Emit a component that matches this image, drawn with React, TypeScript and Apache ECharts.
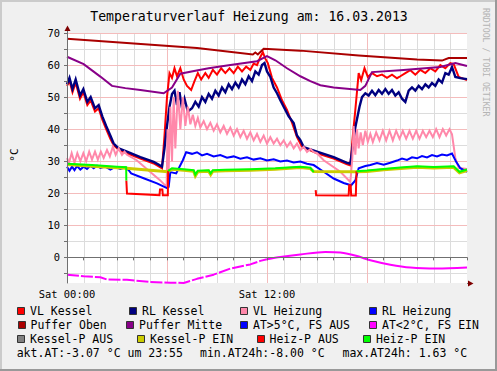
import React, { useEffect, useRef } from 'react';
import * as echarts from 'echarts';

const W = 497;
const H = 371;
const MONO = '"DejaVu Sans Mono", "Liberation Mono", monospace';

// ---- axis ticks ----
const yMajorTicks = [0, 10, 20, 30, 40, 50, 60, 70];
const yMinorTicks = [-5, 5, 15, 25, 35, 45, 55, 65];
const xMajorTicks = [6, 12, 18];
const xMinorTicks = [1, 2, 3, 4, 5, 7, 8, 9, 10, 11, 13, 14, 15, 16, 17, 19, 20, 21, 22, 23];
const xLabels: Record<number, string> = { 0: 'Sat 00:00', 12: 'Sat 12:00' };

// ---- series (time in hours, value in °C) ----
const vlKesselT = [0, 0.15, 0.33, 0.52, 0.78, 0.98, 1.22, 1.42, 1.68, 1.9, 2.12, 2.35, 2.6, 2.8, 3.1, 3.6, 4.4, 5.2, 5.7, 5.85, 6.0, 6.15, 6.3, 6.45, 6.6, 6.8, 7.0, 7.2, 7.45, 7.65, 7.85, 8.05, 8.3, 8.5, 8.75, 9.0, 9.25, 9.5, 9.75, 10.0, 10.25, 10.5, 10.75, 11.0, 11.2, 11.4, 11.6, 11.75, 11.9, 12.05, 12.3, 12.6, 12.9, 13.2, 13.5, 13.8, 14.1, 15.0, 16.0, 16.8, 17.0, 17.15, 17.3, 17.5, 17.65, 17.85, 18.05, 18.3, 18.6, 18.9, 19.2, 19.5, 19.8, 20.0, 20.3, 20.6, 20.9, 21.2, 21.5, 21.8, 22.1, 22.4, 22.7, 23.0, 23.2, 23.5, 24];
const vlKesselV = [53.5, 55, 51.5, 54.5, 49.5, 51.5, 47.5, 49, 45.5, 46.5, 43, 40, 37, 35, 33.5, 32.5, 30.8, 29.3, 27.8, 38, 50, 57.5, 56, 59, 56.5, 59, 55.5, 53.5, 52.2, 55, 57.5, 55.5, 57.5, 56, 58.5, 57, 59, 57.5, 59, 57.5, 59.5, 58, 59.5, 58.5, 60.5, 60, 62.5, 64, 62, 60.6, 56, 53, 49, 46, 42, 37.5, 34.5, 32.5, 30.8, 29, 28.7, 38, 46, 57.5, 55.3, 59, 56.3, 57.5, 56.5, 57, 56, 57, 55.9, 56.5, 57.5, 58.4, 57, 58.5, 57.5, 59, 58, 60, 59, 60.6, 60.3, 56.3, 55.3];

const rlKesselT = [0, 0.15, 0.33, 0.52, 0.78, 0.98, 1.22, 1.42, 1.68, 1.9, 2.12, 2.35, 2.6, 2.8, 3.1, 3.6, 4.4, 5.2, 5.7, 5.85, 6.0, 6.15, 6.3, 6.45, 6.6, 6.75, 6.9, 7.05, 7.25, 7.5, 7.7, 7.9, 8.1, 8.3, 8.5, 8.7, 8.9, 9.1, 9.3, 9.5, 9.7, 9.9, 10.1, 10.3, 10.5, 10.7, 10.9, 11.1, 11.3, 11.5, 11.7, 11.85, 12.0, 12.2, 12.4, 12.6, 12.8, 13.0, 13.3, 13.6, 13.8, 14.0, 14.2, 15.0, 16.0, 16.8, 17.0, 17.15, 17.3, 17.55, 17.7, 17.9, 18.1, 18.3, 18.5, 18.7, 18.9, 19.1, 19.3, 19.5, 19.7, 19.9, 20.1, 20.3, 20.5, 20.7, 20.9, 21.1, 21.3, 21.5, 21.7, 21.9, 22.1, 22.3, 22.5, 22.7, 22.9, 23.1, 23.3, 23.6, 24];
const rlKesselV = [54, 56, 52.5, 55.5, 50.5, 52.5, 48.5, 50, 46.5, 47.5, 44, 41, 38, 35.5, 34, 33, 31.3, 29.8, 28.3, 34, 41, 47, 51, 52, 47.5, 51.5, 46.5, 49.5, 45.5, 46.5, 48.5, 47, 50, 48.5, 51, 49.5, 52, 50.5, 53, 51.5, 54, 52.5, 54.5, 53, 55.5, 54, 56.5, 55, 58, 57, 60, 60.6, 58, 56.3, 53, 51.2, 49, 47, 44, 41.9, 38, 36.6, 34.4, 33, 31.3, 29.5, 29.2, 35, 40.6, 47, 50, 51.2, 50.5, 52, 50.6, 52.2, 51, 52.5, 51, 52.2, 50.5, 51.5, 49.5, 48.5, 52, 53, 52, 53.5, 52.5, 54, 53, 54.4, 53.5, 55.5, 54.5, 57.5, 57, 59.4, 56.3, 55.9, 55.6];

const vlHeizungT = [0, 0.12, 0.28, 0.45, 0.62, 0.8, 0.98, 1.15, 1.33, 1.5, 1.68, 1.85, 2.03, 2.2, 2.4, 2.57, 2.75, 2.92, 3.1, 3.3, 3.45, 3.6, 4.18, 4.98, 5.58, 5.98, 6.03, 6.1, 6.2, 6.3, 6.4, 6.5, 6.65, 6.8, 6.95, 7.1, 7.25, 7.4, 7.55, 7.7, 7.85, 8.0, 8.2, 8.4, 8.6, 8.8, 9.0, 9.2, 9.4, 9.6, 9.8, 10.0, 10.2, 10.4, 10.6, 10.8, 11.0, 11.2, 11.4, 11.6, 11.8, 12.0, 12.2, 12.4, 12.6, 12.8, 13.0, 13.2, 13.4, 13.6, 13.8, 14.0, 14.2, 14.4, 14.6, 14.8, 15.0, 15.4, 16.4, 17.0, 17.12, 17.2, 17.3, 17.4, 17.5, 17.62, 17.75, 17.9, 18.05, 18.2, 18.35, 18.55, 18.75, 18.95, 19.15, 19.35, 19.55, 19.75, 19.95, 20.15, 20.35, 20.55, 20.75, 20.95, 21.15, 21.35, 21.55, 21.75, 21.95, 22.15, 22.35, 22.55, 22.75, 22.95, 23.1, 23.3, 23.5, 24];
const vlHeizungV = [31, 29.5, 32.5, 29.5, 32.5, 30, 32.5, 30, 33, 30.5, 33, 30.5, 33, 31, 33.5, 31.5, 34.5, 32, 34, 32, 33, 32, 30.3, 26.7, 24.1, 22, 40, 27, 47, 30, 50, 34, 52, 40, 50, 41, 47, 41.5, 44.5, 41, 43.5, 40.5, 42.5, 40, 42, 39.5, 41.5, 39, 41, 38.5, 40.5, 38, 40, 37.5, 39.5, 37, 39, 36.5, 38.5, 36, 38, 35.5, 37.5, 35.5, 37, 35, 36.5, 34.5, 36, 34, 35.5, 33.4, 34.5, 32.9, 33.8, 32.9, 32.5, 30.3, 26.7, 23.5, 31, 41, 32, 40, 34, 39, 35, 39.5, 36, 38.5, 36, 39, 36.5, 39.5, 36.5, 39.5, 36.5, 39.5, 37, 39.5, 37, 39.5, 37, 39.5, 37, 39.5, 37.5, 39.5, 37.5, 40, 37.5, 40, 38, 40, 38.4, 31, 27.9, 27.6];

const rlHeizungT = [0, 0.15, 0.3, 0.45, 0.6, 0.8, 1.0, 1.2, 1.4, 1.6, 1.8, 2.0, 2.3, 2.6, 2.9, 3.2, 3.5, 3.7, 3.85, 4.6, 5.4, 6.0, 6.1, 6.2, 6.55, 6.95, 7.15, 7.5, 7.8, 8.1, 8.4, 8.8, 9.2, 9.6, 10.0, 10.4, 10.8, 11.2, 11.6, 12.0, 12.4, 12.8, 13.2, 13.6, 14.0, 14.4, 14.8, 15.4, 16.0, 16.6, 17.05, 17.3, 17.5, 17.9, 18.2, 18.6, 19.0, 19.4, 19.8, 20.1, 20.4, 20.7, 21.0, 21.3, 21.6, 21.9, 22.2, 22.5, 22.8, 23.1, 23.35, 23.6, 24];
const rlHeizungV = [28.3, 27, 28.3, 27.2, 28.5, 27.4, 28.3, 27.6, 28.6, 27.8, 28.6, 27.9, 28.3, 27.4, 28.2, 27.6, 28.1, 27.2, 26.2, 24.7, 23.1, 21.6, 22, 26.6, 26.2, 30.3, 32.8, 32.3, 32.8, 31.8, 32.3, 31.5, 31.9, 31.1, 31.5, 30.8, 31.2, 30.5, 30.9, 30.2, 30.6, 29.9, 30.2, 29.6, 29.9, 29.2, 28.8, 26.7, 24.6, 23.2, 22.5, 24, 27.8, 28.5, 28.8, 29.4, 28.9, 29.5, 30.2, 30.8, 30.4, 31.2, 30.9, 31.6, 31.2, 31.9, 31.5, 32.1, 31.8, 32.4, 29.8, 27.8, 26.7];

const pufferObenT = [0, 3.8, 7.8, 11.15, 11.3, 11.45, 11.8, 14.0, 17.5, 21.0, 22.5, 22.9, 24];
const pufferObenV = [68.2, 66.8, 65.3, 63.3, 63.9, 63.3, 65.1, 64.5, 63.0, 61.7, 61.4, 62.2, 62.2];

const pufferMitteT = [0, 1, 2, 2.7, 3.5, 4.4, 5.8, 6.3, 6.8, 7.7, 8.5, 9.8, 11.4, 12.0, 12.5, 13.2, 14.0, 14.6, 15.2, 16.0, 17.6, 17.9, 18.3, 20.0, 22.4, 23.3, 24];
const pufferMitteV = [62.6, 60.3, 56.4, 53.5, 52.8, 52.2, 51.2, 53, 57.3, 58.2, 59, 60, 61.2, 62.8, 61.5, 59, 56.5, 55, 53.7, 53, 52.2, 53.5, 57.8, 58.4, 59.4, 60.6, 59.7];

const atT = [0, 1, 2, 2.4, 3.6, 5, 6.2, 7, 7.8, 8.8, 9.8, 11, 11.6, 12, 12.8, 14, 15.5, 16.4, 17.4, 18.2, 19.4, 20.6, 22.2, 24];
const atV = [-5.4, -5.9, -6.2, -6.9, -7.0, -7.7, -7.9, -8.0, -6.7, -5.4, -3.5, -2.2, -1.1, -0.6, 0.1, 0.9, 1.7, 1.5, 0.4, -0.9, -2.3, -3.2, -3.5, -3.2];

const kesselPEinT = [0, 2, 3.55, 5.0, 6.05, 6.07, 6.3, 7.0, 7.6, 7.7, 7.85, 8.5, 8.62, 8.75, 9.5, 11, 12.5, 14.0, 14.6, 14.8, 17.35, 18.0, 19.0, 20.0, 21.0, 22.0, 23.2, 23.55, 24];
const kesselPEinV = [29, 28.3, 27.8, 27.2, 26.7, 26.7, 27.5, 27.2, 26.9, 25.4, 26.7, 26.9, 25.8, 26.9, 27, 27.2, 27.5, 28, 27.7, 26.8, 26.7, 26.8, 27.3, 27.7, 28.1, 27.9, 28.1, 26.4, 27.1];

const heizPAusT = [3.56, 3.6, 5.55, 5.58, 5.72, 5.75, 6.05, 6.07, 6.08, 14.9, 14.92, 14.95, 16.9, 16.93, 17.02, 17.05, 17.33, 17.37];
const heizPAusV = [24, 19.9, 19.4, 21.2, 21.2, 19.4, 19.4, 27, null, null, 21, 19.4, 19.3, 22.5, 22.5, 19.3, 19.3, 26.9];

const heizPEinT = [0, 1.5, 3.0, 3.55, 3.56, 3.57, 6.05, 6.07, 6.3, 7.0, 7.6, 7.7, 7.85, 8.5, 8.62, 8.75, 9.5, 11, 12.5, 14.0, 14.6, 14.8, 14.81, 17.35, 17.37, 18.0, 19.0, 20.0, 21.0, 22.0, 23.2, 23.55, 24];
const heizPEinV = [29.2, 28.8, 28.3, 28.1, 24, null, null, 27, 27.8, 27.5, 27.2, 25.8, 27, 27.2, 26.2, 27.2, 27.3, 27.5, 27.8, 28.3, 28, 26.6, null, null, 26.9, 27.1, 27.6, 28, 28.4, 28.2, 28.4, 26.7, 27.4];

// ---- legend ----
const legendNames = [
  ['VL Kessel', 'RL Kessel', 'VL Heizung', 'RL Heizung'],
  ['Puffer Oben', 'Puffer Mitte', 'AT>5°C, FS AUS', 'AT<2°C, FS EIN'],
  ['Kessel-P AUS', 'Kessel-P EIN', 'Heiz-P AUS', 'Heiz-P EIN'],
];
const legendColors = [
  ['#FF0000', '#000080', '#FF88AA', '#0000FF'],
  ['#AA0000', '#880088', '#0000FF', '#FF00FF'],
  ['#808080', '#CCCC00', '#FF0000', '#00FF00'],
];
const footerTexts = ['akt.AT:-3.07 °C um 23:55', 'min.AT24h:-8.00 °C', 'max.AT24h: 1.63 °C'];
const titleText = 'Temperaturverlauf Heizung am: 16.03.2013';

// layout (pixels)
const legendTextX = [
  [30, 142, 253, 382],
  [30.5, 139, 253, 382],
  [30, 150, 269.5, 376],
];
const legendRowY = [311, 325, 339];
const footerX = [16.7, 200, 342.5];
const footerY = 353;

const pairs = (t: number[], v: (number | null)[]) => t.map((x, i) => [x, v[i]]);

export default function App() {
  const ref = useRef<HTMLDivElement>(null);
  useEffect(() => {
    const chart = echarts.init(ref.current!, null, { renderer: 'svg', width: W, height: H });

    const gridData: number[][] = [
      ...yMinorTicks.map((v) => [0, v]),
      ...xMinorTicks.map((v) => [2, v]),
      ...yMajorTicks.map((v) => [1, v]),
      ...xMajorTicks.map((v) => [3, v]),
    ];

    const line = (name: string, data: any[], color: string, width = 2, extra: any = {}) => ({
      type: 'line',
      name,
      data,
      showSymbol: false,
      symbol: 'none',
      silent: true,
      connectNulls: false,
      lineStyle: { color, width, cap: 'butt', join: 'miter' },
      emphasis: { disabled: true },
      z: 3,
      ...extra,
    });

    const atDashed = pairs(atT, atV).filter((p) => (p[0] as number) <= 12);
    const atSolid = pairs(atT, atV).filter((p) => (p[0] as number) >= 12);

    const legendGraphics: any[] = [];
    legendNames.forEach((row, r) => {
      row.forEach((name, c) => {
        const tx = legendTextX[r][c];
        const y = legendRowY[r];
        legendGraphics.push({
          type: 'rect',
          shape: { x: Math.round(tx - 13) + 0.5, y: Math.round(y - 4) + 0.5, width: 7, height: 7 },
          style: { fill: legendColors[r][c], stroke: '#333333', lineWidth: 1 },
        });
        legendGraphics.push({
          type: 'text',
          x: tx,
          y,
          style: { text: name, fill: '#000', font: `11.5px ${MONO}`, align: 'left', verticalAlign: 'middle' },
        });
      });
    });
    footerTexts.forEach((t, i) => {
      legendGraphics.push({
        type: 'text',
        x: footerX[i],
        y: footerY,
        style: { text: t, fill: '#000', font: `11.5px ${MONO}`, align: 'left', verticalAlign: 'middle' },
      });
    });

    chart.setOption({
      animation: false,
      backgroundColor: '#F0F0F0',
      grid: { left: 67, top: 33, width: 400, height: 250, show: true, backgroundColor: '#FFFFFF', borderWidth: 0 },
      xAxis: {
        type: 'value',
        min: 0,
        max: 24,
        interval: 1,
        z: 5,
        axisLine: { show: true, lineStyle: { color: '#707070', width: 1 } },
        axisTick: { show: true, length: 3, lineStyle: { color: '#707070' } },
        axisLabel: {
          formatter: (v: number) => xLabels[v] || '',
          fontFamily: MONO,
          fontSize: 10.4,
          color: '#000',
          margin: 6,
          showMaxLabel: true,
          showMinLabel: true,
        },
        splitLine: { show: false },
      },
      yAxis: {
        type: 'value',
        min: -8,
        max: 70,
        z: 5,
        axisLine: { show: true, lineStyle: { color: '#707070', width: 1 } },
        axisTick: { show: true, length: 3, customValues: [...yMinorTicks, ...yMajorTicks], lineStyle: { color: '#707070' } },
        axisLabel: { customValues: yMajorTicks, fontFamily: MONO, fontSize: 10.4, color: '#000', margin: 7 },
        splitLine: { show: false },
      },
      series: [
        {
          type: 'custom',
          silent: true,
          z: 1,
          data: gridData,
          renderItem: (_p: any, api: any) => {
            const kind = api.value(0);
            const v = api.value(1);
            const major = kind === 1 || kind === 3;
            let p1: number[];
            let p2: number[];
            if (kind < 2) {
              p1 = api.coord([0, v]);
              p2 = api.coord([24, v]);
              const y = Math.round(p1[1]) + 0.5;
              return { type: 'line', z2: major ? 2 : 1, shape: { x1: p1[0], y1: y, x2: p2[0], y2: y }, style: { stroke: major ? '#F4BCBC' : '#DCDCDC', lineWidth: 1 } };
            }
            p1 = api.coord([v, -8]);
            p2 = api.coord([v, 70]);
            const x = Math.round(p1[0]) + 0.5;
            return { type: 'line', z2: major ? 2 : 1, shape: { x1: x, y1: p1[1], x2: x, y2: p2[1] }, style: { stroke: major ? '#F4BCBC' : '#DCDCDC', lineWidth: 1 } };
          },
        },
        line('VL Kessel', pairs(vlKesselT, vlKesselV), '#FF0000'),
        line('RL Kessel', pairs(rlKesselT, rlKesselV), '#000080', 2.4),
        line('VL Heizung', pairs(vlHeizungT, vlHeizungV), '#FF88AA'),
        line('RL Heizung', pairs(rlHeizungT, rlHeizungV), '#0000FF'),
        line('Puffer Oben', pairs(pufferObenT, pufferObenV), '#AA0000'),
        line('Puffer Mitte', pairs(pufferMitteT, pufferMitteV), '#880088'),
        line('AT<2°C, FS EIN', atDashed, '#FF00FF', 2, { lineStyle: { color: '#FF00FF', width: 2, type: [12, 2] } }),
        line('AT<2°C, FS EIN ', atSolid, '#FF00FF', 2, { smooth: 0.3 }),
        line('Kessel-P EIN', pairs(kesselPEinT, kesselPEinV), '#CCCC00', 3),
        line('Heiz-P AUS', pairs(heizPAusT, heizPAusV), '#FF0000'),
        line('Heiz-P EIN', pairs(heizPEinT, heizPEinV), '#00FF00'),
      ],
      graphic: [
        // frame
        { type: 'rect', shape: { x: 0, y: 0, width: W, height: 2 }, style: { fill: '#CBCBCB' } },
        { type: 'rect', shape: { x: 0, y: 0, width: 2, height: H }, style: { fill: '#CBCBCB' } },
        { type: 'rect', shape: { x: W - 2, y: 0, width: 2, height: H }, style: { fill: '#999999' } },
        { type: 'rect', shape: { x: 0, y: H - 2, width: W, height: 2 }, style: { fill: '#999999' } },
        // axis arrows
        { type: 'line', shape: { x1: 67.5, y1: 33, x2: 67.5, y2: 29 }, style: { stroke: '#707070', lineWidth: 1 }, z: 10 },
        { type: 'polygon', shape: { points: [[64.5, 31], [70.5, 31], [67.5, 25.5]] }, style: { fill: '#7F0000' }, z: 10 },
        { type: 'line', shape: { x1: 467, y1: 283.5, x2: 470, y2: 283.5 }, style: { stroke: '#707070', lineWidth: 1 }, z: 10 },
        { type: 'polygon', shape: { points: [[468, 280.5], [468, 286.5], [473.5, 283.5]] }, style: { fill: '#7F0000' }, z: 10 },
        // title
        { type: 'text', x: 249, y: 16.5, style: { text: titleText, fill: '#000', font: `13.2px ${MONO}`, align: 'center', verticalAlign: 'middle' } },
        // y axis name
        { type: 'text', x: 14, y: 155, rotation: Math.PI / 2, style: { text: '°C', fill: '#000', font: `11px ${MONO}`, align: 'center', verticalAlign: 'middle' } },
        // watermark
        { type: 'text', x: 486, y: 8, rotation: -Math.PI / 2, style: { text: 'RRDTOOL / TOBI OETIKER', fill: '#B4B4B4', font: `8.2px ${MONO}`, align: 'left', verticalAlign: 'middle' } },
        ...legendGraphics,
      ],
    });

    return () => chart.dispose();
  }, []);

  return <div ref={ref} style={{ position: 'absolute', left: 0, top: 0, width: W, height: H }} />;
}
